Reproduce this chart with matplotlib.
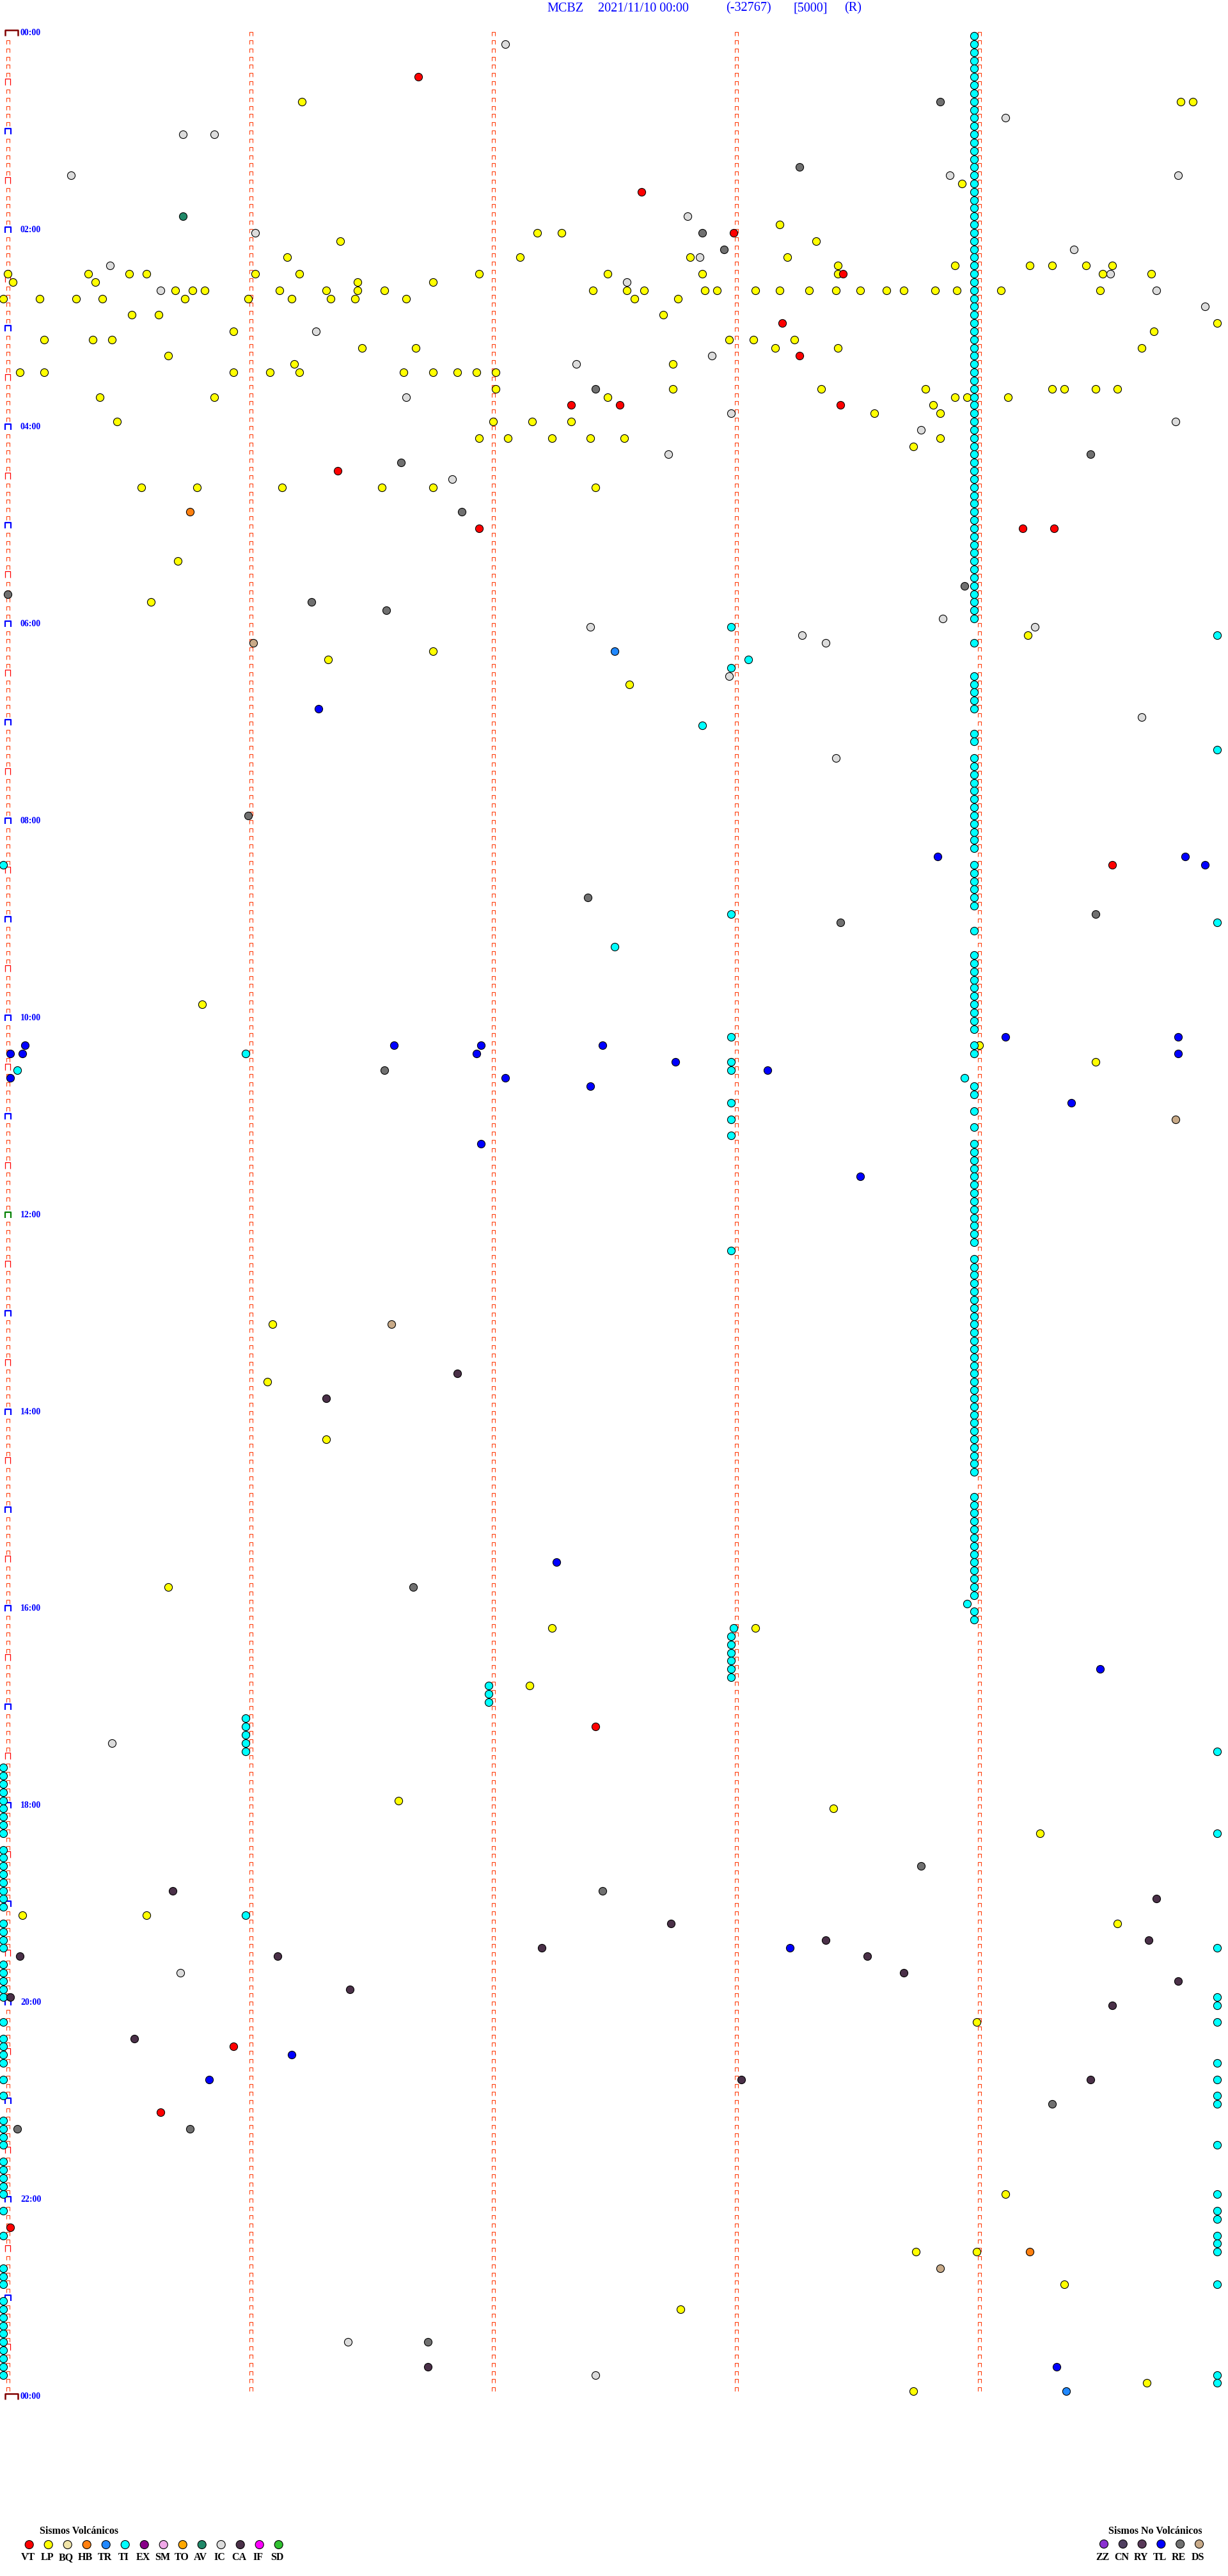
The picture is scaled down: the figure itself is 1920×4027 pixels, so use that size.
import numpy as np
import matplotlib
matplotlib.use("Agg")
import matplotlib.pyplot as plt

plt.rcParams['font.family'] = ['Liberation Serif', 'DejaVu Serif']

# ---- data: events as (row, minute inside the 5-min row) ----
# one row = 5 minutes, 288 rows = 24 h
TITLE = ["MCBZ", "2021/11/10 00:00", "(-32767)", "[5000]", "(R)"]
N_ROWS = 288

LP = [(8, 1.21), (8, 4.83), (8, 4.88), (18, 3.93), (23, 3.18), (24, 2.18), (24, 2.28), (25, 1.37), (25, 3.33),
      (27, 1.15), (27, 2.11), (27, 2.81), (27, 3.21), (28, 3.42), (28, 3.9), (28, 4.21), (28, 4.3), (28, 4.44),
      (28, 4.55), (29, 0.0), (29, 0.33), (29, 0.5), (29, 0.57), (29, 1.02), (29, 1.2), (29, 1.94), (29, 2.47),
      (29, 2.86), (29, 3.42), (29, 4.51), (29, 4.71), (30, 0.02), (30, 0.36), (30, 1.44), (30, 1.75),
      (31, 0.69), (31, 0.76), (31, 0.81), (31, 1.12), (31, 1.31), (31, 1.44), (31, 1.55), (31, 2.41), (31, 2.55),
      (31, 2.62), (31, 2.87), (31, 2.92), (31, 3.08), (31, 3.18), (31, 3.3), (31, 3.41), (31, 3.51), (31, 3.62),
      (31, 3.69), (31, 3.82), (31, 3.91), (31, 4.09), (31, 4.5), (32, -0.02), (32, 0.13), (32, 0.28), (32, 0.39),
      (32, 0.73), (32, 0.99), (32, 1.17), (32, 1.33), (32, 1.43), (32, 1.64), (32, 2.58), (32, 2.76),
      (34, 0.51), (34, 0.62), (34, 2.7), (35, 4.98), (36, 0.93), (36, 4.72), (37, 0.15), (37, 0.35), (37, 0.43),
      (37, 2.97), (37, 3.07), (37, 3.24), (38, 1.46), (38, 1.68), (38, 3.16), (38, 3.42), (38, 4.67), (39, 0.66),
      (40, 1.18), (40, 2.74), (41, 0.05), (41, 0.15), (41, 0.93), (41, 1.08), (41, 1.2), (41, 1.63), (41, 1.75),
      (41, 1.85), (41, 1.93), (41, 2.01), (43, 2.01), (43, 2.74), (43, 3.35), (43, 3.78), (43, 4.3), (43, 4.35),
      (43, 4.48), (43, 4.57), (44, 0.38), (44, 0.85), (44, 2.47), (44, 3.9), (44, 3.95), (44, 4.12), (45, 3.81),
      (46, 3.57), (46, 3.84), (47, 0.45), (47, 2.0), (47, 2.16), (47, 2.32), (49, 1.94), (49, 2.06), (49, 2.24),
      (49, 2.4), (49, 2.54), (49, 3.84), (50, 3.73), (55, 0.55), (55, 0.78), (55, 1.13), (55, 1.54), (55, 1.75),
      (55, 2.42), (64, 0.7), (69, 0.59), (73, 4.2), (75, 1.75), (76, 1.32), (79, 2.56), (118, 0.8), (123, 4.0),
      (125, 4.48), (157, 1.09), (164, 1.07), (171, 1.31), (189, 0.66), (194, 2.24), (194, 3.08), (201, 2.15),
      (215, 1.61), (216, 3.4), (219, 4.25), (229, 0.06), (229, 0.57), (230, 4.57), (242, 3.99), (263, 4.11),
      (270, 3.74), (270, 3.99), (274, 4.35), (277, 2.77), (286, 4.69), (287, 3.73)]

VT = [(5, 1.69), (19, 2.61), (24, 2.99), (29, 3.44), (35, 3.19), (39, 3.26), (45, 2.32), (45, 2.52), (45, 3.43),
      (53, 1.36), (60, 1.94), (60, 4.18), (60, 4.31), (101, 4.55), (206, 2.42), (245, 0.93), (253, 0.63), (267, 0.01)]

IC = [(1, 2.05), (10, 4.11), (12, 0.72), (12, 0.85), (17, 0.26), (17, 3.88), (17, 4.82), (22, 2.8), (24, 1.02),
      (26, 4.39), (27, 2.85), (28, 0.42), (29, 4.54), (30, 2.55), (31, 0.63), (31, 4.73), (33, 4.93), (36, 1.27),
      (39, 2.9), (40, 2.34), (44, 1.64), (46, 2.98), (47, 4.81), (48, 3.76), (51, 2.72), (54, 1.83), (71, 3.85),
      (72, 2.4), (72, 4.23), (73, 3.27), (74, 3.37), (78, 2.97), (83, 4.67), (88, 3.41), (208, 0.43), (236, 0.71),
      (281, 1.4), (285, 2.42)]

RE = [(8, 3.84), (16, 3.26), (24, 2.86), (26, 2.95), (43, 2.42), (51, 4.46), (52, 1.62), (58, 1.87), (67, 3.94),
      (68, 0.0), (69, 1.25), (70, 1.56), (95, 0.99), (105, 2.39), (107, 4.48), (108, 3.43), (126, 1.55),
      (189, 1.67), (223, 3.76), (226, 2.45), (252, 4.3), (255, 0.04), (255, 0.75), (281, 1.73)]

AV = [(22, 0.72)]
HB = [(58, 0.75), (270, 4.21)]
TR = [(75, 2.5), (287, 4.36)]
DS = [(74, 1.01), (132, 4.81), (157, 1.58), (272, 3.84)]

TL = [(82, 1.28), (100, 3.83), (100, 4.85), (101, 4.93), (122, 4.11), (122, 4.82), (123, 0.07), (123, 1.59),
      (123, 1.95), (123, 2.45), (124, 0.01), (124, 0.06), (124, 1.93), (124, 4.82), (125, 2.75), (126, 3.13),
      (127, 0.01), (127, 2.05), (128, 2.4), (130, 4.38), (135, 1.95), (139, 3.51), (186, 2.26), (199, 4.5),
      (233, 3.22), (246, 1.17), (249, 0.83), (284, 4.32)]

CA = [(163, 1.85), (166, 1.31), (226, 0.68), (227, 4.73), (230, 2.73), (232, 3.37), (232, 4.7), (233, 2.2),
      (234, 0.05), (234, 1.11), (234, 3.54), (236, 3.69), (237, 4.82), (238, 1.41), (239, 0.01), (240, 4.55),
      (244, 0.52), (249, 3.02), (249, 4.46), (284, 1.73)]

# TI: the long column near minute 3.98, the left edge run and scattered ones
TI_COLUMN_ROWS = [0, 1, 2, 3, 4, 5, 6, 7, 8, 9, 10, 11, 12, 13, 14, 15, 16, 17, 18, 19, 20, 21, 22, 23, 24, 25,
                  26, 27, 28, 29, 30, 31, 32, 33, 34, 35, 36, 37, 38, 39, 40, 41, 42, 43, 44, 45, 46, 47, 48, 49,
                  50, 51, 52, 53, 54, 55, 56, 57, 58, 59, 60, 61, 62, 63, 64, 65, 66, 67, 68, 69, 70, 71,
                  74, 78, 79, 80, 81, 82, 85, 86, 88, 89, 90, 91, 92, 93, 94, 95, 96, 97, 98, 99,
                  101, 102, 103, 104, 105, 106, 109, 112, 113, 114, 115, 116, 117, 118, 119, 120, 121, 123, 124,
                  128, 129, 131, 133, 135, 136, 137, 138, 139, 140, 141, 142, 143, 144, 145, 146, 147,
                  149, 150, 151, 152, 153, 154, 155, 156, 157, 158, 159, 160, 161, 162, 163, 164, 165, 166, 167,
                  168, 169, 170, 171, 172, 173, 174, 175, 178, 179, 180, 181, 182, 183, 184, 185, 186, 187, 188,
                  189, 190, 192, 193]
TI_LEFT_ROWS = [101, 211, 212, 213, 214, 215, 216, 217, 218, 219, 221, 222, 223, 224, 225, 226, 227, 228,
                230, 231, 232, 233, 235, 236, 237, 238, 239, 242, 244, 245, 246, 247, 249, 251, 254, 255, 256,
                257, 259, 260, 261, 262, 263, 265, 268, 272, 273, 274, 276, 277, 278, 279, 280, 281, 282, 283,
                284, 285]
TI_OTHER = [(72, 2.98), (73, 4.98), (76, 3.05), (77, 2.98), (84, 2.86), (87, 4.98), (107, 2.98), (108, 4.98),
            (111, 2.5), (122, 2.98), (124, 0.98), (125, 2.98), (126, 0.04), (126, 2.98), (127, 3.94), (130, 2.98),
            (132, 2.98), (134, 2.98), (148, 2.98), (191, 3.95), (194, 2.99), (195, 2.98), (196, 2.98), (197, 2.98),
            (198, 2.98), (199, 2.98), (200, 2.98), (201, 1.98), (202, 1.98), (203, 1.98), (205, 0.98), (206, 0.98),
            (207, 0.98), (208, 0.98), (209, 0.98), (209, 4.98), (219, 4.98), (229, 0.98), (233, 4.98), (239, 4.98),
            (240, 4.98), (242, 4.98), (247, 4.98), (249, 4.98), (251, 4.98), (252, 4.98), (257, 4.98), (263, 4.98),
            (265, 4.98), (266, 4.98), (268, 4.98), (269, 4.98), (270, 4.98), (274, 4.98), (285, 4.98), (286, 4.98)]

VOLC_CODES = ['VT', 'LP', 'BQ', 'HB', 'TR', 'TI', 'EX', 'SM', 'TO', 'AV', 'IC', 'CA', 'IF', 'SD']
VOLC_COLORS = ['#ff0000', '#ffff00', '#f0e4a8', '#ff8010', '#2088ff', '#00ffff', '#880088', '#f0a8e8',
               '#ffa800', '#208868', '#dcdcdc', '#4a3048', '#ff00ff', '#30c030']
NOVOLC_CODES = ['ZZ', 'CN', 'RY', 'TL', 'RE', 'DS']
NOVOLC_COLORS = ['#8a30d0', '#504060', '#583858', '#0000ff', '#707070', '#c8aa88']
COLOR = dict(zip(VOLC_CODES + NOVOLC_CODES, VOLC_COLORS + NOVOLC_COLORS))

HOUR_LABELS = ['00:00', '02:00', '04:00', '06:00', '08:00', '10:00', '12:00',
               '14:00', '16:00', '18:00', '20:00', '22:00', '00:00']

W, H = 1920, 4027
fig = plt.figure(figsize=(W / 100, H / 100), dpi=100)
fig.patch.set_facecolor('white')

# main axes: x = minute inside row, y = row index (5 min each)
ax = fig.add_axes([0, 0, 1, 1])
ax.set_xlim(-12.24 / 379.6, (W - 12.24) / 379.6)
ax.set_ylim((H - 56.07) / 12.83, -56.07 / 12.83)
ax.axis('off')


def bracket(x0, x1, h):
    # open "⊓" shape, bottom of legs at the anchor, returns verts and markersize
    verts = [(x0, 0), (x0, h), (x1, h), (x1, 0)]
    m = max(abs(x0), abs(x1), h)
    return verts, 1.44 * m


rows = np.arange(N_ROWS + 1)
small_v, small_ms = bracket(-2.5, 2.5, 6)

# minute markers in the 4 inner columns
for c in [1, 2, 3, 4]:
    ax.plot(np.full(N_ROWS, c), rows[:-1], ls='none', marker=small_v, ms=small_ms,
            mfc='none', mec='#ff4010', mew=0.8, zorder=1)

# left edge markers
plain = [r for r in rows if r % 6 != 0]
half = [r for r in rows if r % 12 == 6]
hour = [r for r in rows if r % 12 == 0 and r not in (0, 144, N_ROWS)]
ax.plot(np.zeros(len(plain)), plain, ls='none', marker=small_v, ms=small_ms,
        mfc='none', mec='#ff4010', mew=0.8, zorder=1)
hv, hms = bracket(-4, 4, 10)
ax.plot(np.zeros(len(half)), half, ls='none', marker=hv, ms=hms, mfc='none', mec='#ff0000', mew=0.9, zorder=1)
bv, bms = bracket(-4, 5, 9)
ax.plot(np.zeros(len(hour)), hour, ls='none', marker=bv, ms=bms, mfc='none', mec='#0000ff', mew=1.6, zorder=1)
ax.plot([0], [144], ls='none', marker=bv, ms=bms, mfc='none', mec='#008000', mew=1.6, zorder=1)
dv, dms = bracket(-4, 16, 9)
ax.plot([0, 0], [0, N_ROWS], ls='none', marker=dv, ms=dms, mfc='none', mec='#800000', mew=1.8, zorder=1)

for i, lab in enumerate(HOUR_LABELS):
    ax.text(0.052, i * 24 - 0.35, lab, color='#0000ff', fontsize=10, fontweight='bold',
            va='center', ha='left', zorder=2)


def dots(events, code, z=3):
    if not events:
        return
    r, m = zip(*events)
    ax.scatter(m, r, s=76, c=COLOR[code], edgecolors='black', linewidths=0.8, zorder=z)


dots(LP, 'LP')
dots(IC, 'IC')
dots(RE, 'RE')
ti = [(r, 3.98) for r in TI_COLUMN_ROWS] + [(r, -0.02) for r in TI_LEFT_ROWS] + TI_OTHER
dots(ti, 'TI', 4)
for code, ev in [('DS', DS), ('AV', AV), ('HB', HB), ('TR', TR), ('TL', TL), ('VT', VT), ('CA', CA)]:
    dots(ev, code, 5)

# overlay in pixel units for title and legend
ov = fig.add_axes([0, 0, 1, 1])
ov.set_xlim(0, W)
ov.set_ylim(H, 0)
ov.axis('off')
ov.patch.set_alpha(0)

title_x = [855, 935, 1135, 1240, 1320]
for t, x in zip(TITLE, title_x):
    ov.text(x, 13, t, color='#0000ff', fontsize=14.5, ha='left', va='center')

ov.text(124, 3957, 'Sismos Volcánicos', fontsize=11.5, fontweight='bold', ha='center', va='center')
vx = 45.7 + 30 * np.arange(len(VOLC_CODES))
ov.scatter(vx, np.full(len(vx), 3978), s=88, c=VOLC_COLORS, edgecolors='black', linewidths=0.8)
for x, lab in zip(vx, VOLC_CODES):
    ov.text(x - 2, 3998, lab, fontsize=11.5, fontweight='bold', ha='center', va='center')

ov.text(1806, 3957, 'Sismos No Volcánicos', fontsize=11.5, fontweight='bold', ha='center', va='center')
nx = 1726 + 29.8 * np.arange(len(NOVOLC_CODES))
ov.scatter(nx, np.full(len(nx), 3977), s=88, c=NOVOLC_COLORS, edgecolors='black', linewidths=0.8)
for x, lab in zip(nx, NOVOLC_CODES):
    ov.text(x - 2, 3998, lab, fontsize=11.5, fontweight='bold', ha='center', va='center')

fig.savefig('out.png', dpi=100, facecolor='white')
